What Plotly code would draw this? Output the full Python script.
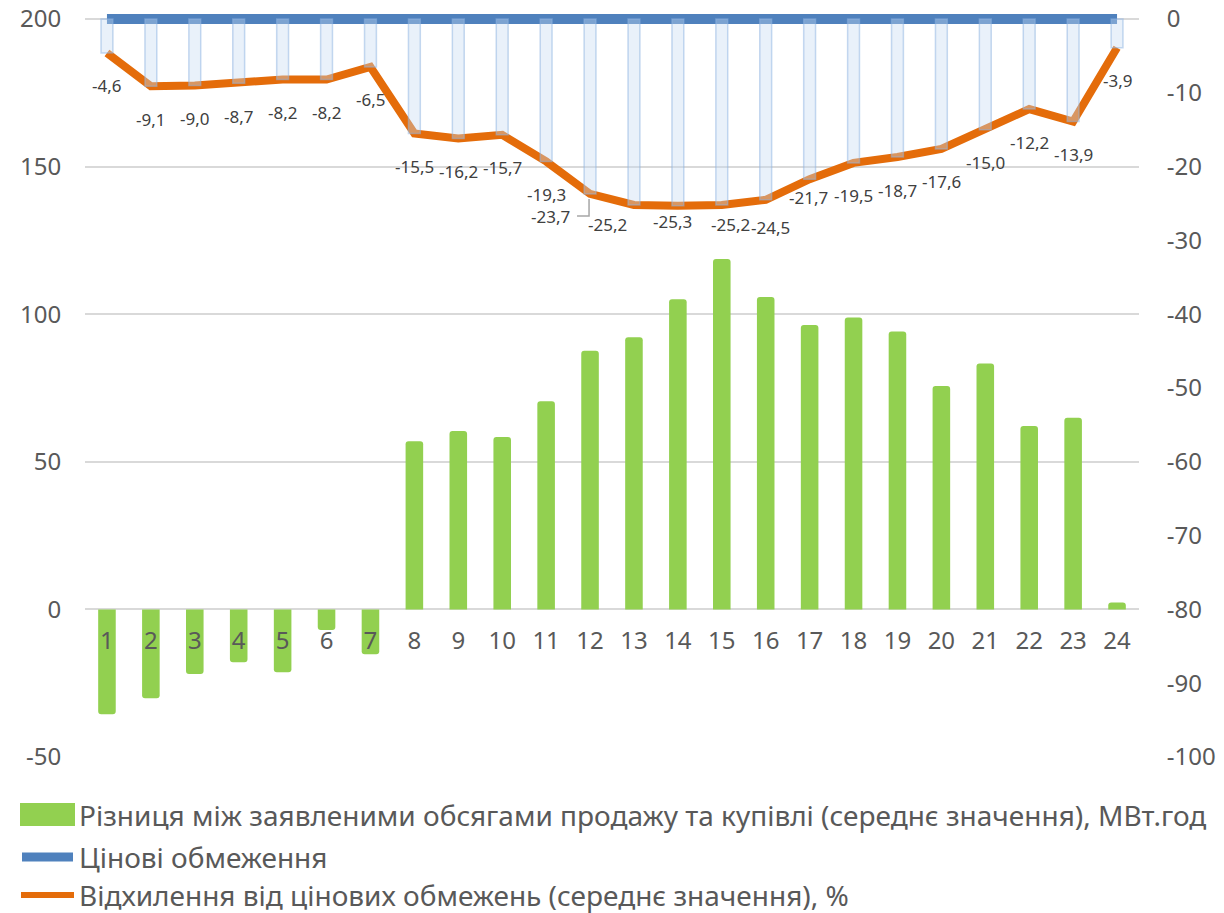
import plotly.graph_objects as go

# hours of the day
hours = list(range(1, 25))

# difference between declared sale and purchase volumes (average), MWh
volume_diff = [-35.5, -30.1, -21.9, -17.9, -21.3, -7.0, -15.2, 57.0, 60.4, 58.4, 70.5, 87.6,
               92.2, 105.1, 118.7, 105.8, 96.3, 98.9, 94.1, 75.7, 83.3, 62.1, 64.9, 2.3]

# price limits line (reference level, %)
price_limit = [0, 0, 0, 0, 0, 0, 0, 0, 0, 0, 0, 0,
               0, 0, 0, 0, 0, 0, 0, 0, 0, 0, 0, 0]

# deviation from price limits (average), %
deviation = [-4.6, -9.1, -9.0, -8.7, -8.2, -8.2, -6.5, -15.5, -16.2, -15.7, -19.3, -23.7,
             -25.2, -25.3, -25.2, -24.5, -21.7, -19.5, -18.7, -17.6, -15.0, -12.2, -13.9, -3.9]

# axis ticks
left_ticks = [-50, 0, 50, 100, 150, 200]
right_ticks = [-100, -90, -80, -70, -60, -50, -40, -30, -20, -10, 0]

series_names = [
    "Різниця між заявленими обсягами продажу та купівлі (середнє значення), МВт.год",
    "Цінові обмеження",
    "Відхилення від цінових обмежень (середнє значення), %",
]

GREEN = "#92D050"
BLUE = "#4F81BD"
ORANGE = "#E46C0A"
TICK = "#595959"
LABEL = "#404040"
FONT = "Noto Sans"

W, H = 1224, 913
L, R, T, B = 85, 85, 19, 156
PAD = 7  # extra px above the 200/0 gridline so the thick top line is not clipped
PW, PH = W - L - R, H - T - B

# extend ranges upward by PAD pixels, keeping the scale of both axes
y_lo, y_hi = -50, 200
y2_lo, y2_hi = -100, 0
y_top = y_hi + PAD * (y_hi - y_lo) / PH
y2_top = y2_hi + PAD * (y2_hi - y2_lo) / PH


def px(x):
    return (x - L) / PW


def py(y):
    return (H - B - y) / (PH + PAD)


fig = go.Figure()

fig.add_trace(go.Bar(
    x=hours, y=volume_diff, name=series_names[0],
    marker=dict(color=GREEN, cornerradius=3, line=dict(width=0)),
    width=0.4, yaxis="y", showlegend=False,
))

fig.add_trace(go.Scatter(
    x=hours, y=price_limit, name=series_names[1], mode="lines",
    line=dict(color=BLUE, width=10), yaxis="y2", showlegend=False,
))

fig.add_trace(go.Scatter(
    x=hours, y=deviation, name=series_names[2], mode="lines",
    line=dict(color=ORANGE, width=8), yaxis="y2", showlegend=False,
))

# drop bars between the price-limit line and the deviation line
fig.add_trace(go.Bar(
    x=hours, y=deviation, base=price_limit, width=0.27, yaxis="y3",
    marker=dict(color="rgba(198,217,241,0.38)",
                line=dict(color="rgba(141,180,226,0.5)", width=1.5)),
    showlegend=False, hoverinfo="skip",
))

# label offsets (px); labels sit below the points unless crowded
label_shift = {12: (-40, -23), 13: (-26, -20), 14: (-5, -16),
               15: (9, -20), 16: (5, -28), 17: (-1, -18)}

for h, v in zip(hours, deviation):
    dx, dy = label_shift.get(h, (0, -33))
    fig.add_annotation(
        x=h, y=v, xref="x", yref="y2", text=f"{v:.1f}".replace(".", ","),
        showarrow=False, xshift=dx, yshift=dy,
        font=dict(family=FONT, size=17, color=LABEL),
    )

# leader line for the moved label of hour 12
fig.add_shape(
    type="path", xref="x", yref="y2", xsizemode="pixel", ysizemode="pixel",
    xanchor=hours[11], yanchor=deviation[11],
    path="M-1,-5 V-22 H-13", line=dict(color="#A6A6A6", width=1.5),
)

# legend drawn by hand to get Excel-like wide swatches
legend_rows = [815, 857, 895]
fig.add_shape(type="rect", xref="paper", yref="paper",
              x0=px(20), x1=px(75), y0=py(826), y1=py(803),
              fillcolor=GREEN, line=dict(width=0))
fig.add_shape(type="line", xref="paper", yref="paper",
              x0=px(22), x1=px(73), y0=py(legend_rows[1]), y1=py(legend_rows[1]),
              line=dict(color=BLUE, width=9))
fig.add_shape(type="line", xref="paper", yref="paper",
              x0=px(21), x1=px(74), y0=py(legend_rows[2]), y1=py(legend_rows[2]),
              line=dict(color=ORANGE, width=6))
for name, row in zip(series_names, legend_rows):
    fig.add_annotation(
        x=px(77), y=py(row), xref="paper", yref="paper", text=name,
        showarrow=False, xanchor="left", yanchor="middle",
        font=dict(family=FONT, size=28, color=TICK),
    )

fig.update_layout(
    width=W, height=H,
    margin=dict(l=L, r=R, t=T - PAD, b=B),
    paper_bgcolor="white", plot_bgcolor="white",
    barmode="overlay",
    showlegend=False,
    font=dict(family=FONT, color=TICK),
    xaxis=dict(
        range=[0.5, 24.5], tickmode="array", tickvals=hours, automargin=False,
        anchor="free", position=py(609), showgrid=False, zeroline=False, showline=False,
        ticks="outside", ticklen=10, tickcolor="rgba(0,0,0,0)",
        tickfont=dict(family=FONT, size=24, color=TICK),
    ),
    yaxis=dict(
        range=[y_lo, y_top], tickmode="array", tickvals=left_ticks,
        ticktext=[str(t) for t in left_ticks], automargin=False,
        showgrid=True, gridcolor="#D9D9D9", gridwidth=2,
        zeroline=False, showline=False,
        ticks="outside", ticklen=18, tickcolor="rgba(0,0,0,0)",
        tickfont=dict(family=FONT, size=24, color=TICK),
    ),
    yaxis2=dict(
        range=[y2_lo, y2_top], tickmode="array", tickvals=right_ticks,
        ticktext=[str(t) for t in right_ticks], automargin=False,
        overlaying="y", side="right",
        showgrid=False, zeroline=False, showline=False,
        ticks="outside", ticklen=22, tickcolor="rgba(0,0,0,0)",
        tickfont=dict(family=FONT, size=24, color=TICK),
    ),
    yaxis3=dict(range=[y2_lo, y2_top], overlaying="y", visible=False),
)

fig.write_html("out.html", config={"displayModeBar": False},
               post_script="document.body.style.margin='0';")
